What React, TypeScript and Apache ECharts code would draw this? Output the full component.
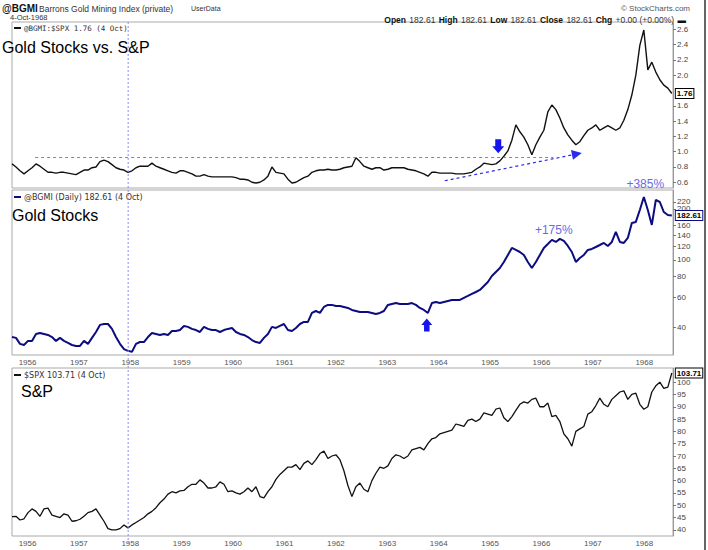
import React, { useEffect, useRef } from "react";
import * as echarts from "echarts";

// ---- x domain (fractional years), one sample roughly every 4 weeks ----
const T0 = 1955.91;
const STEP = 0.0778;
const yearTicks = [1956, 1957, 1958, 1959, 1960, 1961, 1962, 1963, 1964, 1965, 1966, 1967, 1968];

// ---- @BGMI:$SPX ratio ----
const ratioValues = [
  0.84, 0.80, 0.75, 0.71, 0.75, 0.79, 0.84, 0.81, 0.77, 0.73, 0.73, 0.72, 0.73, 0.73, 0.72, 0.71,
  0.70, 0.73, 0.76, 0.76, 0.79, 0.80, 0.87, 0.89, 0.87, 0.83, 0.79, 0.77, 0.76, 0.73, 0.75, 0.79,
  0.81, 0.81, 0.81, 0.85, 0.81, 0.79, 0.77, 0.75, 0.73, 0.72, 0.75, 0.75, 0.73, 0.71, 0.68, 0.68,
  0.70, 0.68, 0.67, 0.67, 0.67, 0.67, 0.67, 0.67, 0.66, 0.64, 0.64, 0.63, 0.60, 0.59, 0.60, 0.63,
  0.68, 0.80, 0.73, 0.72, 0.71, 0.64, 0.59, 0.60, 0.63, 0.66, 0.68, 0.73, 0.75, 0.76, 0.76, 0.77,
  0.76, 0.76, 0.77, 0.79, 0.80, 0.81, 0.92, 0.87, 0.81, 0.79, 0.77, 0.79, 0.79, 0.76, 0.77, 0.79,
  0.79, 0.79, 0.79, 0.77, 0.76, 0.75, 0.73, 0.71, 0.68, 0.73, 0.73, 0.72, 0.72, 0.72, 0.72, 0.71,
  0.71, 0.71, 0.72, 0.73, 0.77, 0.80, 0.85, 0.84, 0.83, 0.84, 0.88, 0.94, 1.01, 1.15, 1.35, 1.26,
  1.19, 1.09, 0.96, 1.09, 1.19, 1.28, 1.52, 1.61, 1.55, 1.44, 1.31, 1.22, 1.15, 1.09, 1.13, 1.21,
  1.28, 1.31, 1.35, 1.28, 1.31, 1.34, 1.31, 1.28, 1.31, 1.41, 1.55, 1.74, 2.00, 2.39, 2.59, 2.07,
  2.17, 2.04, 1.94, 1.87, 1.83, 1.76,
];

// ---- @BGMI (Daily) ----
const goldValues = [
  35.2, 34.8, 32.1, 31.6, 33.4, 33.4, 36.7, 37.2, 36.7, 36.2, 35.2, 33.4, 34.8, 33.4, 32.5, 31.6,
  31.2, 31.2, 33.4, 32.1, 34.8, 37.7, 41.5, 42.0, 42.0, 39.3, 35.2, 32.1, 29.9, 29.2, 28.8, 32.1,
  32.9, 32.9, 35.2, 37.2, 36.7, 36.2, 36.7, 36.2, 38.2, 38.2, 38.7, 40.9, 40.4, 39.3, 38.7, 37.7,
  40.4, 39.3, 38.7, 38.7, 37.7, 38.7, 39.3, 39.8, 37.7, 36.7, 36.2, 35.2, 33.8, 32.9, 32.5, 34.8,
  36.7, 40.4, 39.8, 40.9, 42.0, 38.7, 38.2, 39.8, 42.0, 43.2, 43.2, 48.8, 50.1, 48.8, 52.9, 54.4,
  54.4, 53.6, 53.6, 52.9, 52.2, 50.8, 50.1, 49.4, 49.4, 49.4, 48.8, 48.1, 48.8, 50.1, 54.4, 55.1,
  55.8, 55.1, 55.1, 55.1, 55.8, 54.4, 52.2, 50.8, 48.8, 55.8, 56.6, 55.8, 56.6, 57.4, 58.2, 58.2,
  58.2, 59.8, 61.4, 63.1, 64.8, 66.6, 70.3, 74.2, 80.5, 85.0, 89.7, 97.3, 107.0, 117.7, 114.6, 111.4,
  107.0, 97.3, 89.7, 97.3, 107.0, 117.7, 124.2, 131.2, 127.6, 133.0, 129.4, 120.9, 111.4, 97.3, 102.7, 107.0,
  114.6, 116.1, 119.2, 122.5, 125.9, 120.9, 127.6, 146.2, 127.6, 125.9, 134.7, 165.1, 167.4, 196.8, 234.9, 196.8,
  160.7, 225.4, 219.3, 191.5, 184.0, 182.61,
];

// ---- $SPX ----
const spxValues = [
  45.4, 45.5, 44.0, 44.5, 47.0, 48.5, 47.5, 45.5, 48.5, 48.8, 46.0, 45.5, 45.0, 46.5, 46.0, 43.5,
  43.7, 44.3, 45.5, 47.0, 47.5, 48.5, 46.0, 43.5, 40.5, 40.0, 40.0, 40.5, 42.0, 40.8, 42.0, 43.0,
  44.0, 45.0, 46.5, 47.5, 49.0, 51.0, 52.5, 54.5, 55.5, 55.0, 55.8, 56.0, 57.5, 58.5, 58.5, 60.3,
  59.0, 57.0, 57.0, 57.5, 59.5, 58.5, 55.5, 55.8, 55.0, 54.5, 55.5, 57.0, 55.5, 57.5, 53.5, 53.0,
  55.5, 57.5, 60.5, 62.5, 64.0, 65.5, 65.5, 66.5, 64.5, 67.0, 68.0, 66.5, 68.5, 71.0, 72.0, 69.0,
  70.0, 70.5, 68.5, 64.0, 58.0, 53.5, 57.5, 59.0, 56.5, 55.5, 60.0, 63.0, 65.5, 65.0, 66.0, 69.0,
  70.5, 70.0, 69.0, 70.0, 72.5, 73.0, 73.5, 72.5, 75.0, 77.0, 77.5, 79.0, 79.5, 80.0, 80.5, 83.0,
  82.5, 82.0, 84.5, 85.0, 84.0, 85.0, 87.5, 87.0, 86.5, 89.0, 89.5, 85.5, 84.0, 86.0, 88.5, 91.0,
  92.0, 91.5, 93.0, 93.5, 90.0, 90.0, 91.5, 86.0, 86.5, 84.0, 79.0, 77.0, 74.0, 80.0, 81.0, 82.0,
  87.0, 88.0, 90.5, 93.5, 91.0, 90.0, 93.0, 94.5, 96.0, 96.5, 93.0, 95.0, 95.5, 91.0, 89.0, 90.0,
  96.0, 98.5, 100.0, 97.5, 98.0, 103.71,
];

// ---- axis tick labels ----
const ratioTicks = [0.6, 0.8, 1.0, 1.2, 1.4, 1.6, 2.0, 2.2, 2.4, 2.6];
const goldTicks = [40, 60, 80, 100, 120, 140, 160, 200, 220, 240];
const spxTicks = [40, 45, 50, 55, 60, 65, 70, 75, 80, 85, 90, 95, 100];

// ---- annotation anchors (in data units) ----
const redLevel = 0.93;
const redFrom = 1956.36;
const redTo = 1966.44;
const trendFrom: [number, number] = [1964.33, 0.62];
const trendTo: [number, number] = [1966.9, 0.97];
const downArrowAt: [number, number] = [1965.37, 1.07];
const upArrowAt: [number, number] = [1963.98, 41.5];
const gain175At: [number, number] = [1966.45, 150];
const gain385At: [number, number] = [1968.23, 0.58];
const markerDate = 1958.17;

const FONT = "Liberation Sans, Arial, sans-serif";
const SMALL = "DejaVu Sans, Verdana, sans-serif";

export default function App() {
  const ref = useRef<HTMLDivElement>(null);
  useEffect(() => {
    if (!ref.current) return;
    const chart = echarts.init(ref.current, null, { renderer: "svg" });
    const dates = ratioValues.map((_, i) => +(T0 + i * STEP).toFixed(4));
    const pairs = (vals: number[]) => vals.map((v, i) => [dates[i], v]);
    const xMin = T0;
    const xMax = 1968.77;

    const xAxisBase = (gridIndex: number, showLabels: boolean) => ({
      type: "value" as const,
      gridIndex,
      min: xMin,
      max: xMax,
      splitLine: { show: false },
      axisLine: { show: false },
      axisTick: { show: false },
      axisLabel: {
        show: showLabels,
        customValues: yearTicks,
        formatter: (v: number) => String(Math.round(v)),
        color: "#555",
        fontSize: 8,
        fontFamily: FONT,
        align: "left" as const,
        padding: [0, 0, 0, 2],
        margin: 3,
      },
    });

    const yAxisBase = (gridIndex: number, ticks: number[], fmt: (v: number) => string) => ({
      position: "right" as const,
      gridIndex,
      splitLine: { show: false },
      axisLine: { show: true, lineStyle: { color: "#999", width: 1 } },
      axisTick: { show: true, length: 3, customValues: ticks, lineStyle: { color: "#777" } },
      axisLabel: {
        customValues: ticks,
        formatter: fmt,
        color: "#444",
        fontSize: 8,
        fontFamily: FONT,
        margin: 4,
      },
    });

    const boxLabel = (text: string, border: string) => ({
      show: true,
      formatter: () => text,
      distance: 4,
      color: "#000",
      fontWeight: "bold" as const,
      fontSize: 8,
      fontFamily: FONT,
      backgroundColor: "#fff",
      borderColor: border,
      borderWidth: 1,
      padding: [1, 1, 0, 1],
    });

    const upPath = "path://M6,0 L12,6 L9,6 L9,12 L3,12 L3,6 L0,6 Z";
    const downPath = "path://M3,0 L9,0 L9,6 L12,6 L6,12 L0,6 L3,6 Z";

    chart.setOption({
      animation: false,
      backgroundColor: "#fff",
      grid: [
        { left: 12, right: 35, top: 22, height: 166, show: true, borderColor: "#aaa", borderWidth: 1 },
        { left: 12, right: 35, top: 190, height: 165, show: true, borderColor: "#aaa", borderWidth: 1 },
        { left: 12, right: 35, top: 368, height: 168, show: true, borderColor: "#aaa", borderWidth: 1 },
      ],
      xAxis: [xAxisBase(0, false), xAxisBase(1, true), xAxisBase(2, true)],
      yAxis: [
        { type: "value", min: 0.525, max: 2.695, ...yAxisBase(0, ratioTicks, (v) => v.toFixed(1)) },
        { type: "log", logBase: 10, min: 27.6, max: 258, ...yAxisBase(1, goldTicks, (v) => String(Math.round(v))) },
        { type: "value", min: 37.5, max: 105.75, ...yAxisBase(2, spxTicks, (v) => String(Math.round(v))) },
      ],
      series: [
        {
          type: "line",
          xAxisIndex: 0,
          yAxisIndex: 0,
          data: pairs(ratioValues),
          showSymbol: false,
          lineStyle: { color: "#111", width: 1.4 },
          endLabel: boxLabel("1.76", "#000"),
          markLine: {
            silent: true,
            symbol: "none",
            label: { show: false },
            data: [
              [
                { coord: [redFrom, redLevel], lineStyle: { color: "#e06060", type: [3, 3], width: 1 } },
                { coord: [redTo, redLevel] },
              ],
              [
                {
                  coord: trendFrom,
                  symbol: "none",
                  lineStyle: { color: "#2a2af0", type: [3, 3], width: 1.2 },
                },
                { coord: trendTo, symbol: "triangle", symbolSize: [10, 10] },
              ],
            ],
          },
          markPoint: {
            silent: true,
            data: [
              {
                coord: downArrowAt,
                symbol: downPath,
                symbolSize: [12, 14],
                itemStyle: { color: "#1515ee" },
                label: { show: false },
              },
              {
                coord: gain385At,
                symbol: "rect",
                symbolSize: 1,
                itemStyle: { color: "rgba(0,0,0,0)" },
                label: {
                  show: true,
                  position: "inside",
                  formatter: "+385%",
                  color: "#6a6ae8",
                  fontSize: 12,
                  fontFamily: FONT,
                },
              },
            ],
          },
        },
        {
          type: "line",
          xAxisIndex: 1,
          yAxisIndex: 1,
          data: pairs(goldValues),
          showSymbol: false,
          lineStyle: { color: "#0c0c80", width: 2 },
          endLabel: boxLabel("182.61", "#0c0c80"),
          markPoint: {
            silent: true,
            data: [
              {
                coord: upArrowAt,
                symbol: upPath,
                symbolSize: [11, 13],
                itemStyle: { color: "#1515ee" },
                label: { show: false },
              },
              {
                coord: gain175At,
                symbol: "rect",
                symbolSize: 1,
                itemStyle: { color: "rgba(0,0,0,0)" },
                label: {
                  show: true,
                  position: "inside",
                  formatter: "+175%",
                  color: "#6a6ae8",
                  fontSize: 12,
                  fontFamily: FONT,
                },
              },
            ],
          },
        },
        {
          type: "line",
          xAxisIndex: 2,
          yAxisIndex: 2,
          data: pairs(spxValues),
          showSymbol: false,
          lineStyle: { color: "#111", width: 1.3 },
          endLabel: boxLabel("103.71", "#000"),
        },
      ],
    });

    const mx = chart.convertToPixel({ xAxisIndex: 0 }, markerDate) as number;

    const legend = (y: number, text: string, color: string, font: string) => [
      { type: "rect", shape: { x: 14, y: y - 1, width: 7, height: 2 }, style: { fill: color } },
      {
        type: "text",
        x: 24,
        y,
        style: { text, fill: "#333", font, verticalAlign: "middle" },
      },
    ];

    chart.setOption({
      graphic: [
        {
          type: "line",
          shape: { x1: mx, y1: 22, x2: mx, y2: 546 },
          style: { stroke: "#8a8af0", lineWidth: 1, lineDash: [2, 2] },
          z: 50,
        },
        { type: "line", shape: { x1: 705, y1: 0, x2: 705, y2: 550 }, style: { stroke: "#333", lineWidth: 1.5 } },
        {
          type: "text",
          x: 2,
          y: 3,
          style: { text: "@BGMI", fill: "#111", font: `bold 10px ${FONT}` },
        },
        {
          type: "text",
          x: 39,
          y: 4,
          style: { text: "Barrons Gold Mining Index (private)", fill: "#333", font: `8.5px ${FONT}` },
        },
        { type: "text", x: 191, y: 5, style: { text: "UserData", fill: "#333", font: `7px ${FONT}` } },
        {
          type: "text",
          x: 690,
          y: 4,
          style: { text: "© StockCharts.com", fill: "#555", font: `8px ${FONT}`, align: "right" },
        },
        { type: "text", x: 10, y: 13, style: { text: "4-Oct-1968", fill: "#333", font: `7.5px ${FONT}` } },
        {
          type: "text",
          x: 686,
          y: 14,
          style: {
            text:
              "{b|Open} {n|182.61} {b|High} {n|182.61} {b|Low} {n|182.61} {b|Close} {n|182.61} {b|Chg} {n|+0.00 (+0.00%)} {b|▬}",
            align: "right",
            rich: {
              b: { font: `bold 8.5px ${FONT}`, fill: "#111" },
              n: { font: `8.5px ${FONT}`, fill: "#333" },
            },
          },
        },
        ...legend(28, "@BGMI:$SPX 1.76 (4 Oct)", "#111", "7.5px DejaVu Sans Mono, monospace"),
        ...legend(197, "@BGMI (Daily) 182.61 (4 Oct)", "#0c0c80", `8px ${SMALL}`),
        ...legend(375, "$SPX 103.71 (4 Oct)", "#111", `8px ${SMALL}`),
        { type: "text", x: 2, y: 39, style: { text: "Gold Stocks vs. S&P", fill: "#000", font: `16px ${FONT}` } },
        { type: "text", x: 12, y: 207, style: { text: "Gold Stocks", fill: "#000", font: `16px ${FONT}` } },
        { type: "text", x: 21, y: 383, style: { text: "S&P", fill: "#000", font: `16px ${FONT}` } },
      ],
    });

    return () => chart.dispose();
  }, []);
  return <div ref={ref} style={{ position: "absolute", left: 0, top: 0, width: 708, height: 550 }} />;
}
